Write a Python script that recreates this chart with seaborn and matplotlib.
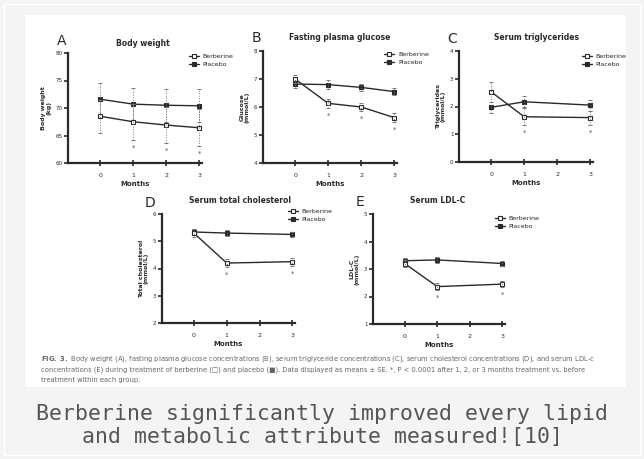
import pandas as pd
import matplotlib.pyplot as plt
import seaborn as sns
from matplotlib.patches import Rectangle

# Values (means +/- error, mmol/L unless noted)
months_full = [0, 1, 2, 3]
months_short = [0, 1, 3]

weight_berb = [68.5, 67.5, 66.9, 66.4]
weight_plac = [71.6, 70.7, 70.5, 70.4]
weight_berb_err = [3.0, 3.3, 3.3, 3.4]
weight_plac_err = [3.0, 3.0, 3.0, 3.0]

glucose_berb = [7.0, 6.13, 6.0, 5.62]
glucose_plac = [6.82, 6.8, 6.7, 6.55]
glucose_berb_err = [0.15, 0.15, 0.15, 0.15]
glucose_plac_err = [0.15, 0.15, 0.12, 0.12]

tg_berb = [2.53, 1.63, 1.60]
tg_plac = [1.97, 2.17, 2.05]
tg_berb_err = [0.35, 0.3, 0.25]
tg_plac_err = [0.2, 0.2, 0.2]

tc_berb = [5.3, 4.2, 4.25]
tc_plac = [5.34, 5.3, 5.25]
tc_berb_err = [0.15, 0.15, 0.15]
tc_plac_err = [0.12, 0.12, 0.1]

ldl_berb = [3.2, 2.36, 2.45]
ldl_plac = [3.3, 3.33, 3.2]
ldl_berb_err = [0.12, 0.12, 0.1]
ldl_plac_err = [0.1, 0.1, 0.1]

W, H = 644, 459
fig = plt.figure(figsize=(W / 100, H / 100), dpi=100)
fig.patch.set_facecolor('#f4f4f4')
sns.set_style("ticks")

# page frame and white figure card
fig.add_artist(Rectangle((4 / W, 4 / H), 1 - 8 / W, 1 - 8 / H, transform=fig.transFigure,
                         facecolor='none', edgecolor='white', lw=1, zorder=0))
fig.add_artist(Rectangle((25 / W, 1 - 387 / H), (626 - 25) / W, (387 - 15) / H,
                         transform=fig.transFigure, facecolor='white', edgecolor='none', zorder=0))

ink = '#2a2a2a'


def px_axes(x0, y0, x1, y1):
    return fig.add_axes([x0 / W, 1 - y1 / H, (x1 - x0) / W, (y1 - y0) / H])


def panel(box, letter, letter_xy, title, title_xy, ylabel, ylim, yticks, months,
          berb, plac, berb_err, plac_err, legend_xy):
    ax = px_axes(*box)
    ax.set_facecolor('none')
    for vals, err, face, name in [(plac, plac_err, ink, 'Placebo'),
                                  (berb, berb_err, 'white', 'Berberine')]:
        df = pd.DataFrame({'Month': months, 'Value': vals})
        sns.lineplot(data=df, x='Month', y='Value', ax=ax, color=ink, lw=1.0,
                     marker='s', markersize=3, markerfacecolor=face,
                     markeredgecolor=ink, markeredgewidth=0.8, label=name)
        eb = ax.errorbar(months, vals, yerr=err, fmt='none', ecolor='#777',
                         elinewidth=0.7, capsize=1.5, capthick=0.7)
        eb[2][0].set_linestyle(':')
    # significance stars below berberine points after baseline
    span = ylim[1] - ylim[0]
    for m, v, e in zip(months[1:], berb[1:], berb_err[1:]):
        ax.text(m, v - e - 0.07 * span, '*', ha='center', va='center', fontsize=5, color='#555')

    ax.set_xlim(-0.97, 3.08)
    ax.set_ylim(*ylim)
    ax.set_xticks([0, 1, 2, 3])
    ax.set_yticks(yticks)
    ax.tick_params(axis='x', direction='inout', length=5, width=1.2, labelsize=4.5,
                   colors=ink, pad=5)
    ax.tick_params(axis='y', direction='out', length=3, width=1.2, labelsize=4,
                   colors=ink, pad=1)
    sns.despine(ax=ax)
    for s in ['left', 'bottom']:
        ax.spines[s].set_linewidth(1.6)
        ax.spines[s].set_color(ink)
    ax.set_xlabel('Months', fontsize=5, fontweight='bold', color=ink, labelpad=2)
    ax.set_ylabel(ylabel, fontsize=4.5, fontweight='bold', color=ink, labelpad=3,
                  linespacing=1.0)

    handles, labels = ax.get_legend_handles_labels()
    order = [labels.index('Berberine'), labels.index('Placebo')]
    ax.legend([handles[i] for i in order], [labels[i] for i in order],
              loc='upper left', bbox_to_anchor=(legend_xy[0] / W, 1 - legend_xy[1] / H),
              bbox_transform=fig.transFigure, frameon=False, fontsize=4.5,
              handlelength=1.6, labelspacing=0.5, borderaxespad=0, handletextpad=0.6)

    fig.text(letter_xy[0] / W, 1 - letter_xy[1] / H, letter, fontsize=10, color=ink,
             ha='center', va='center')
    fig.text(title_xy[0] / W, 1 - title_xy[1] / H, title, fontsize=5.5, fontweight='bold',
             color=ink, ha='center', va='center')
    return ax


panel((68, 53, 202, 163), 'A', (62, 41), 'Body weight', (143, 43),
      'Body weight\n(kg)', (60, 80), [60, 65, 70, 75, 80], months_full,
      weight_berb, weight_plac, weight_berb_err, weight_plac_err, (186, 51))
panel((263, 51, 397, 163), 'B', (256, 38), 'Fasting plasma glucose', (340, 37),
      'Glucose\n(mmol/L)', (4, 8), [4, 5, 6, 7, 8], months_full,
      glucose_berb, glucose_plac, glucose_berb_err, glucose_plac_err, (382, 49))
panel((459, 51, 593, 162), 'C', (452, 39), 'Serum triglycerides', (537, 37),
      'Triglycerides\n(mmol/L)', (0, 4), [0, 1, 2, 3, 4], months_short,
      tg_berb, tg_plac, tg_berb_err, tg_plac_err, (579, 51))
panel((162, 214, 295, 323), 'D', (150, 203), 'Serum total cholesterol', (240, 200),
      'Total cholesterol\n(mmol/L)', (2, 6), [2, 3, 4, 5, 6], months_short,
      tc_berb, tc_plac, tc_berb_err, tc_plac_err, (285, 206))
panel((373, 214, 505, 324), 'E', (360, 202), 'Serum LDL-C', (438, 200),
      'LDL-C\n(mmol/L)', (1, 5), [1, 2, 3, 4, 5], months_short,
      ldl_berb, ldl_plac, ldl_berb_err, ldl_plac_err, (492, 213))

# figure legend text inside the card
cap_lines = [
    r"$\mathbf{FIG.\ 3.}$ Body weight (A), fasting plasma glucose concentrations (B), serum triglyceride concentrations (C), "
    "serum cholesterol concentrations (D), and serum LDL-c",
    "concentrations (E) during treatment of berberine (\u25a1) and placebo (\u25a0). Data displayed as means \u00b1 SE. "
    "*, P < 0.0001 after 1, 2, or 3 months treatment vs. before",
    "treatment within each group.",
]
for i, line in enumerate(cap_lines):
    fig.text(41 / W, 1 - (359 + 10.5 * i) / H, line, fontsize=4.9, color='#666',
             ha='left', va='center')

# caption below the figure
fig.text(0.5, 1 - 414 / H, "Berberine significantly improved every lipid",
         family='DejaVu Sans Mono', fontsize=15.5, color='#555', ha='center', va='center')
fig.text(0.5, 1 - 437 / H, "and metabolic attribute measured![10]",
         family='DejaVu Sans Mono', fontsize=15.5, color='#555', ha='center', va='center')

fig.savefig('out.png', dpi=100, facecolor=fig.get_facecolor())
